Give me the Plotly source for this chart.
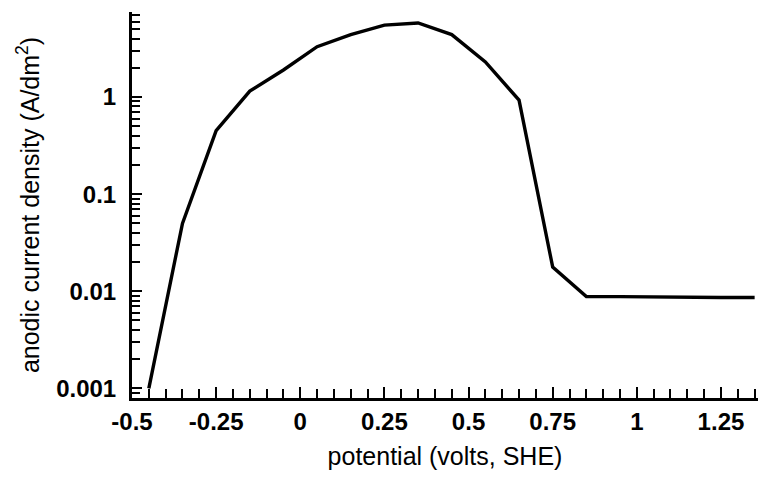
import plotly.graph_objects as go

potential = [-0.45, -0.35, -0.25, -0.15, -0.05, 0.05, 0.15, 0.25, 0.35, 0.45, 0.55, 0.65, 0.75, 0.85, 0.95, 1.05, 1.15, 1.25, 1.35]
current = [0.001, 0.05, 0.45, 1.15, 1.9, 3.3, 4.4, 5.5, 5.8, 4.4, 2.3, 0.93, 0.0177, 0.0088, 0.0088, 0.0087, 0.0087, 0.0086, 0.0086]

x_ticks = [-0.5, -0.25, 0, 0.25, 0.5, 0.75, 1, 1.25]
x_labels = ["-0.5", "-0.25", "0", "0.25", "0.5", "0.75", "1", "1.25"]
x_minor = [round(-0.5 + 0.05 * i, 2) for i in range(38)]
y_ticks = [0.001, 0.01, 0.1, 1]
y_labels = ["0.001", "0.01", "0.1", "1"]
y_minor = [k * 10 ** e for e in range(-4, 1) for k in range(2, 10)]

fig = go.Figure()
fig.add_trace(go.Scatter(x=potential, y=current, mode="lines",
                         line=dict(color="black", width=3.4), showlegend=False))

tickfont = dict(family="Liberation Sans, Arial, sans-serif", size=24, color="black", weight="bold")
titlefont = dict(family="Liberation Sans, Arial, sans-serif", size=25, color="black")

fig.update_layout(
    width=758, height=478,
    margin=dict(l=132, r=0, t=12, b=80),
    paper_bgcolor="white", plot_bgcolor="white",
    xaxis=dict(
        range=[-0.5, 1.36], tickmode="array", tickvals=x_ticks, ticktext=x_labels,
        showline=True, linecolor="black", linewidth=3,
        ticks="inside", ticklen=11, tickwidth=2, tickcolor="black",
        minor=dict(ticks="inside", tickmode="array", tickvals=x_minor, ticklen=9, tickwidth=2, tickcolor="black", showgrid=False),
        showgrid=False, zeroline=False, tickfont=tickfont,
        title=dict(text="potential (volts, SHE)", font=titlefont, standoff=14),
    ),
    yaxis=dict(
        type="log", range=[-3.1, 0.876], tickmode="array", tickvals=y_ticks, ticktext=y_labels,
        showline=True, linecolor="black", linewidth=3,
        ticks="inside", ticklen=10, tickwidth=2, tickcolor="black",
        minor=dict(ticks="inside", tickmode="array", tickvals=y_minor, ticklen=8, tickwidth=2, tickcolor="black", showgrid=False),
        showgrid=False, zeroline=False, tickfont=tickfont,
        ticklabelstandoff=8,
        title=dict(text="anodic current density (A/dm<sup>2</sup>)", font=titlefont, standoff=10),
    ),
)

fig.write_html("out.html")
